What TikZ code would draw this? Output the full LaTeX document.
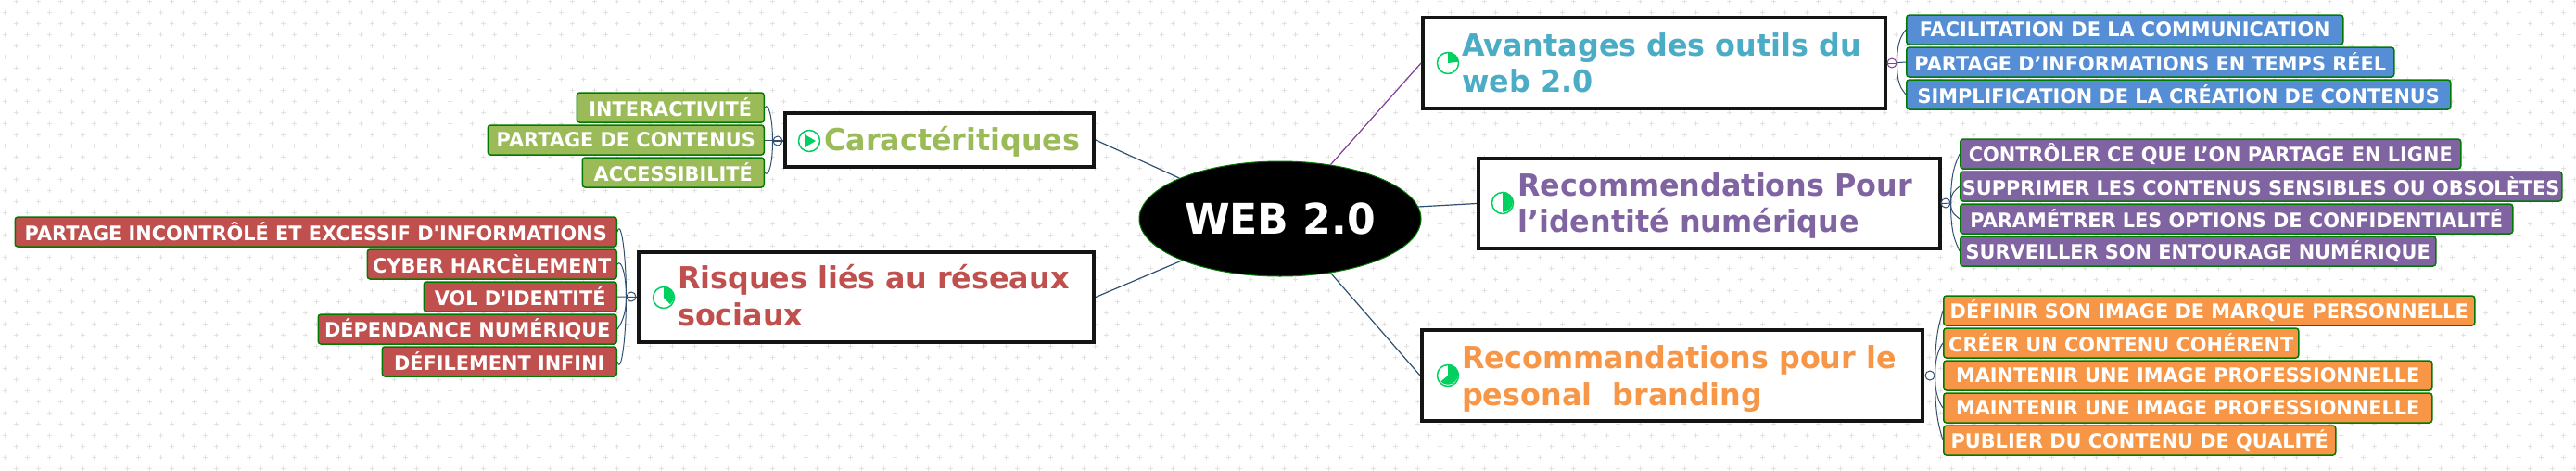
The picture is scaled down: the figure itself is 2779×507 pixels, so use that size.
\documentclass[tikz,border=0pt]{standalone}
\usepackage{fontspec}
\defaultfontfeatures[\rmfamily]{}
\setmainfont{DejaVu Sans}[FakeStretch=0.97]
\usetikzlibrary{shapes.geometric}

\definecolor{leafgreen}{HTML}{9BBB59}
\definecolor{leafred}{HTML}{C0504D}
\definecolor{leafblue}{HTML}{558ED5}
\definecolor{leafpurple}{HTML}{8064A2}
\definecolor{leaforange}{HTML}{F79646}
\definecolor{titleblue}{HTML}{4BACC6}
\definecolor{edgegreen}{HTML}{007A00}
\definecolor{iconcol}{HTML}{00D060}
\definecolor{linkblue}{HTML}{30506F}
\definecolor{linkpurple}{HTML}{7F3F98}
\definecolor{dotcol}{HTML}{E2E2E2}

\tikzset{
    web/.style={ellipse, fill=black, draw=edgegreen, line width=1pt, inner sep=0pt, minimum width=304pt, minimum height=124pt, text=white, font=\bfseries\fontsize{45.5}{52}\selectfont},
    topic/.style={rectangle, fill=white, draw=black!92, line width=4pt, inner sep=0pt},
    title/.style={anchor=base west, inner sep=0pt, text=#1, font=\bfseries\fontsize{32.8}{39}\selectfont},
    leaf/.style={rectangle, rounded corners=3pt, draw=edgegreen, line width=1.5pt, inner sep=0pt, minimum height=32pt, text=white, font=\bfseries\fontsize{21.5}{25}\selectfont},
    icon/.style={circle, fill=white, draw=iconcol, line width=1.5pt, inner sep=0pt, minimum size=23pt},
    hub/.style={circle, fill=white, draw=#1, line width=1pt, inner sep=0pt, minimum size=10pt},
    link/.style={line width=1.2pt, color=#1},
    branch/.style={line width=1pt, color=#1}
}

\begin{document}
\begin{tikzpicture}[x=1pt, y=-1pt]
    \useasboundingbox (0,0) rectangle (2779,507);

    % background
    \fill[white] (0,0) rectangle (2779,507);
    \foreach \row in {0,...,42} {
        \pgfmathsetmacro{\shift}{mod(\row+1,2)*12}
        \foreach \col in {0,...,116} {
            \draw[dotcol, line width=1pt] ({\col*24+\shift+5-2.5},{\row*12+1}) -- +(5,0) ({\col*24+\shift+5},{\row*12+1-2.5}) -- +(0,5);
        }
    }

    % centre and topics
    \node[web] (web) at (1381,236) {WEB 2.0};
    \node[topic, minimum width=333pt, minimum height=58pt] (caract) at (1013.5,151) {};
    \node[topic, minimum width=491pt, minimum height=97pt] (risques) at (934.5,320.5) {};
    \node[topic, minimum width=499pt, minimum height=98pt] (avantages) at (1784.5,68) {};
    \node[topic, minimum width=498pt, minimum height=97pt] (identite) at (1844,219.5) {};
    \node[topic, minimum width=540pt, minimum height=98pt] (branding) at (1804,405) {};

    % topic titles
    \node[title=leafgreen] (caracttxt) at (889,162) {Caractéritiques};
    \node[title=leafred] (risquestxt1) at (731,311) {Risques liés au réseaux};
    \node[title=leafred] (risquestxt2) at (731,351) {sociaux};
    \node[title=titleblue] (avantagestxt1) at (1577,60) {Avantages des outils du};
    \node[title=titleblue] (avantagestxt2) at (1577,99) {web 2.0};
    \node[title=leafpurple] (identitetxt1) at (1637,211) {Recommendations Pour};
    \node[title=leafpurple] (identitetxt2) at (1637,250) {l’identité numérique};
    \node[title=leaforange] (brandingtxt1) at (1577,397) {Recommandations pour le};
    \node[title=leaforange] (brandingtxt2) at (1577,437) {pesonal\ \ branding};

    % links from the centre
    \draw[link=linkblue] (web.158) -- (caract.east);
    \draw[link=linkblue] (web.203) -- (risques.east);
    \draw[link=linkpurple] (web.47) -- (avantages.west);
    \draw[link=linkblue] (web.5) -- (identite.west);
    \draw[link=linkblue] (web.-47) -- (branding.west);

    % progress icons
    \node[icon] (caracticon) at (873,152) {};
    \fill[iconcol] (868,145) -- (880,152) -- (868,159) -- cycle;
    \node[icon] (risquesicon) at (716,321) {};
    \fill[iconcol] (risquesicon.center) -- (risquesicon.north) arc[start angle=90, end angle=-50, radius=11pt] -- cycle;
    \node[icon] (avantagesicon) at (1562,68) {};
    \fill[iconcol] (avantagesicon.center) -- (avantagesicon.north) arc[start angle=90, end angle=0, radius=11pt] -- cycle;
    \node[icon] (identiteicon) at (1621,219) {};
    \fill[iconcol] (identiteicon.center) -- (identiteicon.north) arc[start angle=90, end angle=-90, radius=11pt] -- cycle;
    \node[icon] (brandingicon) at (1562,405) {};
    \fill[iconcol] (brandingicon.center) -- (brandingicon.north) arc[start angle=90, end angle=-135, radius=11pt] -- cycle;

    % Caractéritiques leaves
    \node[leaf, fill=leafgreen, anchor=east, minimum width=202pt] (interact) at (825,116) {INTERACTIVITÉ};
    \node[leaf, fill=leafgreen, anchor=east, minimum width=298pt] (contenus) at (825,151) {PARTAGE DE CONTENUS};
    \node[leaf, fill=leafgreen, anchor=east, minimum width=196pt] (access) at (825,186) {ACCESSIBILITÉ};
    \node[hub=linkblue] (caracthub) at (839,152) {};
    \draw[branch=linkblue] (caract.west) -- (contenus.east);
    \draw[branch=linkblue] (caracthub.west) -- (caracthub.east);
    \draw[branch=linkblue] (caracthub.west) .. controls +(0,-25) and +(4,-6) .. (interact.east);
    \draw[branch=linkblue] (caracthub.west) .. controls +(0,25) and +(4,6) .. (access.east);

    % Risques leaves
    \node[leaf, fill=leafred, anchor=east, minimum width=649pt] (partage) at (666,250) {PARTAGE INCONTRÔLÉ ET EXCESSIF D'INFORMATIONS};
    \node[leaf, fill=leafred, anchor=east, minimum width=269pt] (cyber) at (666,285) {CYBER HARCÈLEMENT};
    \node[leaf, fill=leafred, anchor=east, minimum width=208pt] (vol) at (666,320) {VOL D'IDENTITÉ};
    \node[leaf, fill=leafred, anchor=east, minimum width=322pt] (dependance) at (666,355) {DÉPENDANCE NUMÉRIQUE};
    \node[leaf, fill=leafred, anchor=east, minimum width=253pt] (defilement) at (666,390) {DÉFILEMENT INFINI};
    \node[hub=linkblue] (risqueshub) at (681,320) {};
    \draw[branch=linkblue] (risques.west) -- (vol.east);
    \draw[branch=linkblue] (risqueshub.west) -- (risqueshub.east);
    \draw[branch=linkblue] (risqueshub.west) .. controls +(0,-45) and +(4,-15) .. (partage.east);
    \draw[branch=linkblue] (risqueshub.west) .. controls +(0,-25) and +(4,-6) .. (cyber.east);
    \draw[branch=linkblue] (risqueshub.west) .. controls +(0,20) and +(4,-6) .. (dependance.east);
    \draw[branch=linkblue] (risqueshub.west) .. controls +(0,45) and +(4,15) .. (defilement.east);

    % Avantages leaves
    \node[leaf, fill=leafblue, anchor=west, minimum width=471pt] (facil) at (2056,32) {FACILITATION DE LA COMMUNICATION};
    \node[leaf, fill=leafblue, anchor=west, minimum width=526pt] (temps) at (2056,67) {PARTAGE D’INFORMATIONS EN TEMPS RÉEL};
    \node[leaf, fill=leafblue, anchor=west, minimum width=587pt] (simpl) at (2056,102) {SIMPLIFICATION DE LA CRÉATION DE CONTENUS};
    \node[hub=linkpurple] (avantageshub) at (2041,68) {};
    \draw[branch=linkblue] (avantageshub) -- (temps.west);
    \draw[branch=linkpurple] (avantages.east) -- (avantageshub.east);
    \draw[branch=linkblue] (avantageshub.east) .. controls +(0,-25) and +(-4,6) .. (facil.west);
    \draw[branch=linkblue] (avantageshub.east) .. controls +(0,25) and +(-4,-6) .. (simpl.west);

    % Recommendations leaves
    \node[leaf, fill=leafpurple, anchor=west, minimum width=540pt] (controler) at (2114,166) {CONTRÔLER CE QUE L’ON PARTAGE EN LIGNE};
    \node[leaf, fill=leafpurple, anchor=west, minimum width=649pt] (supprimer) at (2114,201) {SUPPRIMER LES CONTENUS SENSIBLES OU OBSOLÈTES};
    \node[leaf, fill=leafpurple, anchor=west, minimum width=596pt] (parametrer) at (2114,236) {PARAMÉTRER LES OPTIONS DE CONFIDENTIALITÉ};
    \node[leaf, fill=leafpurple, anchor=west, minimum width=513pt] (surveiller) at (2114,271) {SURVEILLER SON ENTOURAGE NUMÉRIQUE};
    \node[hub=linkblue] (identitehub) at (2099,219) {};
    \draw[branch=linkblue] (identite.east) -- (identitehub.east);
    \draw[branch=linkblue] (identitehub.east) .. controls +(0,-35) and +(-4,10) .. (controler.west);
    \draw[branch=linkblue] (identitehub.east) .. controls +(0,-12) and +(-4,4) .. (supprimer.west);
    \draw[branch=linkblue] (identitehub.east) .. controls +(0,12) and +(-4,-4) .. (parametrer.west);
    \draw[branch=linkblue] (identitehub.east) .. controls +(0,35) and +(-4,-10) .. (surveiller.west);

    % Branding leaves
    \node[leaf, fill=leaforange, anchor=west, minimum width=573pt] (definir) at (2096,335) {DÉFINIR SON IMAGE DE MARQUE PERSONNELLE};
    \node[leaf, fill=leaforange, anchor=west, minimum width=383pt] (creer) at (2096,370) {CRÉER UN CONTENU COHÉRENT};
    \node[leaf, fill=leaforange, anchor=west, minimum width=527pt] (maintenira) at (2096,405) {MAINTENIR UNE IMAGE PROFESSIONNELLE\hspace{8pt}};
    \node[leaf, fill=leaforange, anchor=west, minimum width=527pt] (maintenirb) at (2096,440) {MAINTENIR UNE IMAGE PROFESSIONNELLE\hspace{8pt}};
    \node[leaf, fill=leaforange, anchor=west, minimum width=423pt] (publier) at (2096,475) {PUBLIER DU CONTENU DE QUALITÉ};
    \node[hub=linkblue] (brandinghub) at (2082,405) {};
    \draw[branch=linkblue] (branding.east) -- (maintenira.west);
    \draw[branch=linkblue] (brandinghub.west) -- (brandinghub.east);
    \draw[branch=linkblue] (brandinghub.east) .. controls +(0,-45) and +(-4,15) .. (definir.west);
    \draw[branch=linkblue] (brandinghub.east) .. controls +(0,-20) and +(-4,6) .. (creer.west);
    \draw[branch=linkblue] (brandinghub.east) .. controls +(0,20) and +(-4,-6) .. (maintenirb.west);
    \draw[branch=linkblue] (brandinghub.east) .. controls +(0,45) and +(-4,-15) .. (publier.west);
\end{tikzpicture}
\end{document}
